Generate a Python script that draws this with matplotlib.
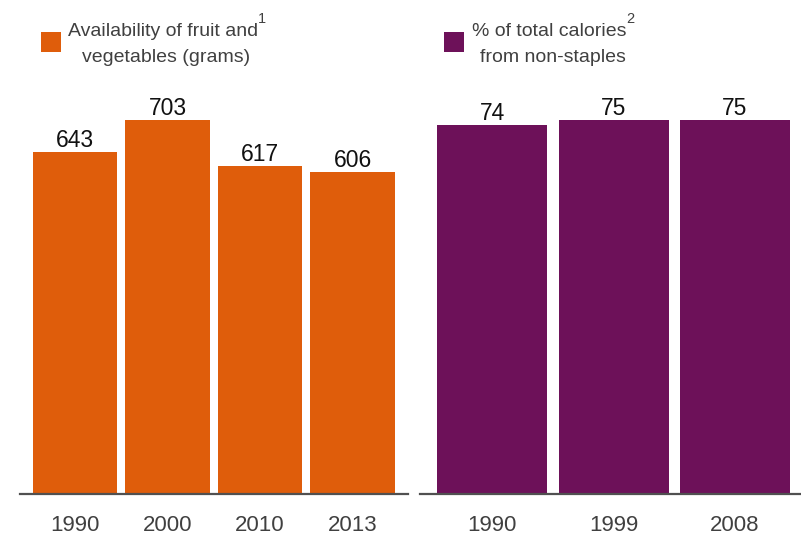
import matplotlib
matplotlib.use("Agg")
import matplotlib.pyplot as plt

plt.rcParams['font.family'] = ['Liberation Sans', 'DejaVu Sans']

# Data
fv_years = ['1990', '2000', '2010', '2013']
fv_grams = [643, 703, 617, 606]
cal_years = ['1990', '1999', '2008']
cal_pct = [74, 75, 75]

ORANGE = '#DF5D0B'
PURPLE = '#6D1159'
AXIS = '#505050'
TEXT = '#404040'

W, H = 801, 537
fig = plt.figure(figsize=(W / 100, H / 100), dpi=100)

def fx(px):
    return px / W

def fy(py):
    return 1 - py / H

base_y = 494
top_y = 100

axL = fig.add_axes([fx(20), fy(base_y), fx(408) - fx(20), (base_y - top_y) / H])
axR = fig.add_axes([fx(420), fy(base_y), fx(801) - fx(420), (base_y - top_y) / H])

def style(ax, cats, vals, color, width, ymax, xlim):
    x = list(range(len(cats)))
    ax.bar(x, vals, width=width, color=color, zorder=2)
    for xi, v in zip(x, vals):
        ax.annotate(str(v), (xi, v), xytext=(0, 3.5), textcoords='offset points',
                    ha='center', va='baseline', fontsize=16.5, color='#111111')
    ax.set_xlim(*xlim)
    ax.set_ylim(0, ymax)
    ax.set_xticks(x)
    ax.set_xticklabels(cats, fontsize=16, color=TEXT)
    ax.tick_params(axis='x', length=0, pad=15)
    ax.set_yticks([])
    for s in ['top', 'left', 'right']:
        ax.spines[s].set_visible(False)
    ax.spines['bottom'].set_color(AXIS)
    ax.spines['bottom'].set_linewidth(1.6)
    ax.spines['bottom'].set_zorder(3)
    ax.patch.set_visible(False)

style(axL, fv_years, fv_grams, ORANGE, 0.914, 703 * 394 / 374, (-0.595, 3.6))
style(axR, cal_years, cal_pct, PURPLE, 0.905, 75 * 394 / 374, (-0.593, 2.543))

# Legends
fig.patches.append(plt.Rectangle((fx(41), fy(52)), fx(20), 20 / H, transform=fig.transFigure,
                                 facecolor=ORANGE, edgecolor='none'))
fig.patches.append(plt.Rectangle((fx(444), fy(52)), fx(20), 20 / H, transform=fig.transFigure,
                                 facecolor=PURPLE, edgecolor='none'))

renderer = fig.canvas.get_renderer()

def legend_text(x1, line1, sup, x2, line2):
    t = fig.text(fx(x1), fy(36), line1, fontsize=14, color=TEXT, ha='left', va='baseline')
    bb = t.get_window_extent(renderer=renderer)
    fig.text(bb.x1 / W, fy(23), sup, fontsize=10.5, color=TEXT, ha='left', va='baseline')
    fig.text(fx(x2), fy(62), line2, fontsize=14, color=TEXT, ha='left', va='baseline')

legend_text(68, 'Availability of fruit and', '1', 82, 'vegetables (grams)')
legend_text(472, '% of total calories', '2', 480, 'from non-staples')

fig.savefig('out.png', dpi=100)
